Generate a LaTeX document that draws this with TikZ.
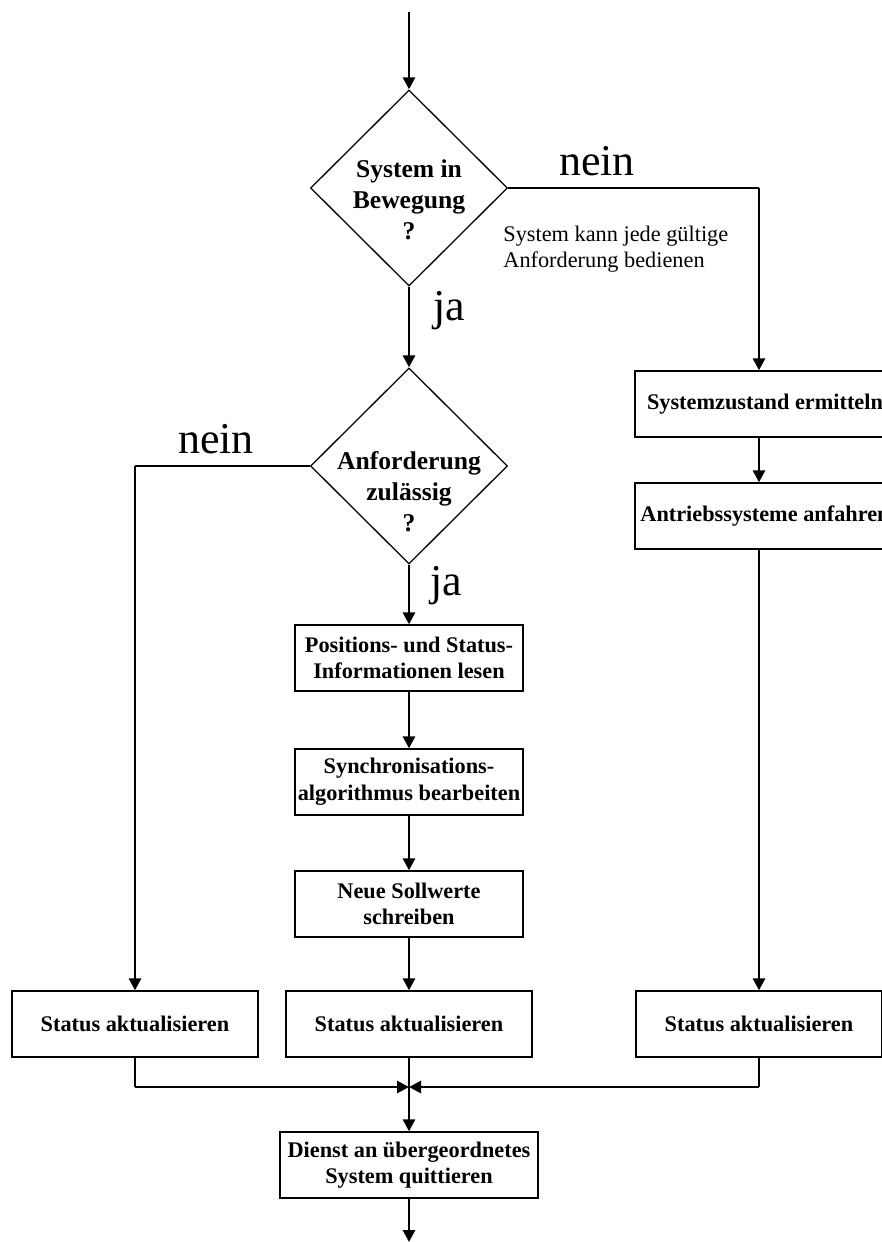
\documentclass[tikz,border=0pt]{standalone}
\usepackage{fontspec}
\setmainfont{Liberation Serif}
\usetikzlibrary{arrows.meta, shapes.geometric, calc}

\begin{document}
\begin{tikzpicture}[x=0.5pt, y=-0.5pt,
  box/.style={draw, line width=0.65pt, inner sep=0pt, align=center, minimum height=33pt, font=\bfseries\fontsize{11.15}{13.3}\selectfont},
  dec/.style={diamond, draw, line width=0.65pt, inner sep=0pt, minimum width=98.5pt, minimum height=98pt},
  dtxt/.style={align=center, inner sep=0pt, font=\bfseries\fontsize{12.8}{15.5}\selectfont},
  yn/.style={inner sep=0pt, font=\fontsize{22}{24}\selectfont},
  note/.style={align=left, inner sep=0pt, font=\fontsize{11.15}{13}\selectfont},
  arr/.style={line width=1.4pt, -{Triangle[length=6pt,width=6pt]}},
  thn/.style={line width=0.65pt},
]
  \useasboundingbox (0,0) rectangle (882,1242);
  % ---- decisions ----
  \node[dec] (d1) at (409,188) {};
  \node[dtxt] (d1t) at (409,200) {System in\\Bewegung\\?};
  \node[dec] (d2) at (409,466) {};
  \node[dtxt] (d2t) at (409,492) {Anforderung\\zul\"assig\\?};
  % ---- middle column ----
  \node[box, minimum width=114pt] (pos) at (409,658) {Positions- und Status-\\Informationen lesen};
  \node[box, minimum width=114pt] (syn) at (409,782) {Synchronisations-\\algorithmus bearbeiten};
  \node[box, minimum width=114pt] (neu) at (409,904) {Neue Sollwerte\\schreiben};
  % ---- right column ----
  \node[box, minimum width=130pt] (sz) at (765,404) {Systemzustand ermitteln};
  \node[box, minimum width=130pt] (an) at (765,516) {Antriebssysteme anfahren};
  % ---- status row ----
  \node[box, minimum width=123pt] (st1) at (135,1024) {Status aktualisieren};
  \node[box, minimum width=123pt] (st2) at (409,1024) {Status aktualisieren};
  \node[box, minimum width=123pt] (st3) at (759,1024) {Status aktualisieren};
  \node[box, minimum width=129pt] (dq) at (409,1165) {Dienst an \"ubergeordnetes\\System quittieren};
  % labels
  \node[yn, anchor=base] (n1) at (597,175) {nein};
  \node[yn, anchor=base] (n2) at (216,453) {nein};
  \node[yn, anchor=base west] (j1) at (433,320) {ja};
  \node[yn, anchor=base west] (j2) at (430,595) {ja};
  \node[note, anchor=north west] (hint) at (503,226) {System kann jede g\"ultige\\Anforderung bedienen};
  % ---- connectors ----
  \coordinate (in) at (409,12);
  \coordinate (out) at (409,1242);
  \coordinate (r1) at (759,188);
  \coordinate (l1) at (135,466);
  \coordinate (m) at (409,1087);
  \coordinate (m1) at (135,1087);
  \coordinate (m3) at (759,1087);
  \draw[arr] (in) -- (d1.north);
  \draw[arr] (d1.south) -- (d2.north);
  \draw[arr] (d2.south) -- (pos.north);
  \draw[arr] (pos) -- (syn);
  \draw[arr] (syn) -- (neu);
  \draw[arr] (neu) -- (st2);
  % nein branches
  \draw[thn] (d1.east) -- (r1);
  \draw[arr] (r1) -- ([xshift=-3pt]sz.north);
  \draw[arr] ([xshift=-3pt]sz.south) -- ([xshift=-3pt]an.north);
  \draw[arr] ([xshift=-3pt]an.south) -- (st3.north);
  \draw[thn] (d2.west) -- (l1);
  \draw[arr] (l1) -- (st1.north);
  % merge
  \draw[thn] (st1.south) -- (m1);
  \draw[arr] (m1) -- (m);
  \draw[thn] (st3.south) -- (m3);
  \draw[arr] (m3) -- (m);
  \draw[arr] (st2.south) -- (dq.north);
  \draw[arr] (dq.south) -- (out);
\end{tikzpicture}
\end{document}
